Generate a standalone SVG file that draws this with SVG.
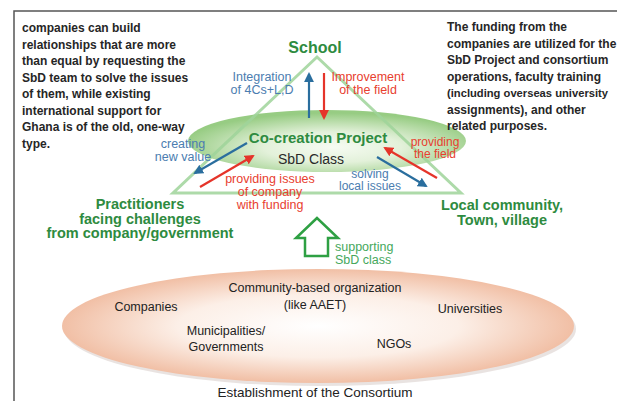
<svg xmlns="http://www.w3.org/2000/svg" width="617" height="401" viewBox="0 0 617 401">
<defs>
  <radialGradient id="gGreen" cx="0.52" cy="0.6" r="0.55">
    <stop offset="0" stop-color="#f6fbf2"/>
    <stop offset="0.45" stop-color="#e3f1da"/>
    <stop offset="1" stop-color="#97cc83"/>
  </radialGradient>
  <radialGradient id="gPink" cx="0.5" cy="0.5" r="0.5">
    <stop offset="0" stop-color="#ffffff"/>
    <stop offset="0.55" stop-color="#fcefe7"/>
    <stop offset="1" stop-color="#f1bfa5"/>
  </radialGradient>
  <marker id="hBlue" viewBox="0 0 10 10" refX="8" refY="5" markerWidth="4.5" markerHeight="4.5" orient="auto">
    <path d="M0,0 L10,5 L0,10 z" fill="#2a6e9e"/>
  </marker>
  <marker id="hRed" viewBox="0 0 10 10" refX="8" refY="5" markerWidth="4.5" markerHeight="4.5" orient="auto">
    <path d="M0,0 L10,5 L0,10 z" fill="#e5342a"/>
  </marker>
</defs>
<style>
  text { font-family: "Liberation Sans", Arial, sans-serif; }
  .note { font-size: 12px; font-weight: bold; fill: #262626; }
  .gtitle { font-weight: bold; fill: #2e8b40; text-anchor: middle; }
  .blue { font-size: 12.5px; fill: #4b7db0; text-anchor: middle; }
  .red { font-size: 12.5px; fill: #e8402f; text-anchor: middle; }
  .sm { font-size: 12px; }
  .lbl { font-size: 12.5px; fill: #222; text-anchor: middle; }
  .ab { stroke: #2a6e9e; stroke-width: 2.2; fill: none; marker-end: url(#hBlue); }
  .ar { stroke: #e5342a; stroke-width: 2.2; fill: none; marker-end: url(#hRed); }
</style>
<rect x="0" y="0" width="617" height="401" fill="#ffffff"/>
<rect x="14" y="11" width="640" height="420" fill="none" stroke="#555" stroke-width="1.5"/>

<g id="consortium">
  <ellipse cx="320" cy="329" rx="256" ry="57" fill="#cfc2bc" opacity="0.45"/>
  <ellipse cx="318" cy="326" rx="256" ry="57" fill="url(#gPink)"/>
  <text class="lbl" x="315" y="292">Community-based organization</text>
  <text class="lbl" x="315" y="309">(like AAET)</text>
  <text class="lbl" x="146" y="311">Companies</text>
  <text class="lbl" x="470" y="313">Universities</text>
  <text class="lbl" x="226" y="335">Municipalities/</text>
  <text class="lbl" x="226" y="351">Governments</text>
  <text class="lbl" x="394" y="348">NGOs</text>
  <text class="lbl" x="315" y="397" style="font-size:13.5px">Establishment of the Consortium</text>
</g>

<g id="cocreation">
  <ellipse cx="327" cy="141" rx="139" ry="31" fill="url(#gGreen)"/>
  <text class="gtitle" x="318" y="143" style="font-size:15px">Co-creation Project</text>
  <text class="lbl" x="311" y="164" style="font-size:14px;fill:#2a2a2a">SbD Class</text>
</g>

<g id="triangle">
  <polygon points="317,57 173,193 461,193" fill="none" stroke="#9fd49a" stroke-width="3" stroke-opacity="0.85" stroke-linejoin="miter"/>
</g>

<g id="school">
  <text class="gtitle" x="315" y="53" style="font-size:16px">School</text>
</g>

<g id="practitioners">
  <text class="gtitle" x="140" y="209" style="font-size:14.5px">Practitioners</text>
  <text class="gtitle" x="140" y="223.5" style="font-size:14.5px">facing challenges</text>
  <text class="gtitle" x="140" y="238" style="font-size:14.5px">from company/government</text>
</g>

<g id="local">
  <text class="gtitle" x="502" y="210" style="font-size:14.5px">Local community,</text>
  <text class="gtitle" x="502" y="224.5" style="font-size:14.5px">Town, village</text>
</g>

<g id="note-left">
  <text class="note" x="22" y="32">companies can build</text>
  <text class="note" x="22" y="48.5">relationships that are more</text>
  <text class="note" x="22" y="65">than equal by requesting the</text>
  <text class="note" x="22" y="81.5">SbD team to solve the issues</text>
  <text class="note" x="22" y="98">of them, while existing</text>
  <text class="note" x="22" y="114.5">international support for</text>
  <text class="note" x="22" y="131">Ghana is of the old, one-way</text>
  <text class="note" x="22" y="147.5">type.</text>
</g>

<g id="note-right">
  <text class="note" x="447" y="31">The funding from the</text>
  <text class="note" x="447" y="47.5">companies are utilized for the</text>
  <text class="note" x="447" y="64">SbD Project and consortium</text>
  <text class="note" x="447" y="80.5">operations, faculty training</text>
  <text class="note" x="447" y="97" style="font-size:11.2px">(including overseas university</text>
  <text class="note" x="447" y="113.5">assignments), and other</text>
  <text class="note" x="447" y="130">related purposes.</text>
</g>

<g id="support-arrow">
  <polygon points="317,218 296,238 305,238 305,256 328,256 328,238 338,238" fill="#ffffff" stroke="#2ea043" stroke-width="2.5" stroke-linejoin="miter"/>
  <text x="335" y="251" style="font-size:12.5px;fill:#46a85c">supporting</text>
  <text x="335" y="264" style="font-size:12.5px;fill:#46a85c">SbD class</text>
</g>

<g id="connectors">
  <line class="ab" x1="309" y1="118" x2="309" y2="74"/>
  <line class="ar" x1="324" y1="73" x2="324" y2="118"/>
  <line class="ab" x1="247" y1="143" x2="195" y2="173"/>
  <line class="ar" x1="200" y1="187" x2="253" y2="156"/>
  <line class="ar" x1="437" y1="178" x2="385" y2="148"/>
  <line class="ab" x1="377" y1="157" x2="426" y2="186"/>
</g>

<g id="labels">
  <text class="blue" x="262" y="81">Integration</text>
  <text class="blue" x="262" y="93.5">of 4Cs+L,D</text>
  <text class="red" x="368" y="81">Improvement</text>
  <text class="red" x="368" y="93.5">of the field</text>
  <text class="blue" x="183" y="148">creating</text>
  <text class="blue" x="183" y="161">new value</text>
  <text class="red" x="270" y="183">providing issues</text>
  <text class="red" x="270" y="196">of company</text>
  <text class="red" x="270" y="209">with funding</text>
  <text class="red sm" x="435" y="145.5">providing</text>
  <text class="red sm" x="435" y="158">the field</text>
  <text class="blue sm" x="370" y="177.5">solving</text>
  <text class="blue sm" x="370" y="190">local issues</text>
</g>
</svg>
